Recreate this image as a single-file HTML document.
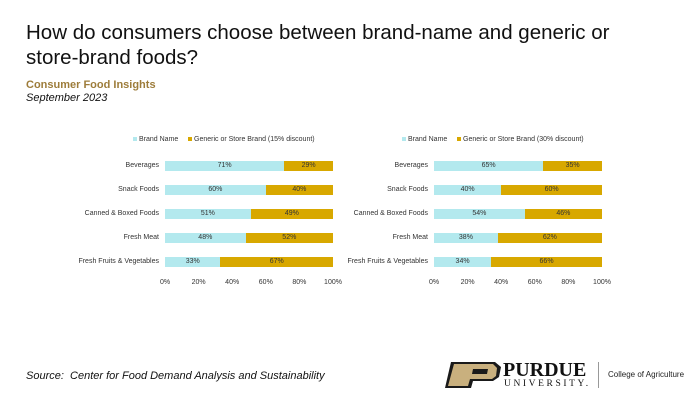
<!DOCTYPE html><html><head><style>
body{margin:0;width:700px;height:420px;background:#fff;font-family:"Liberation Sans",sans-serif;position:relative;overflow:hidden}
.a{position:absolute;white-space:nowrap}
.t{font-size:7px;color:#333}
.bar{position:absolute;height:10px;font-size:7px;color:#333;text-align:center;line-height:10px}
.b{background:#b3e9ee}.g{background:#d8a800}
</style></head><body>
<div class="a" style="left:26px;top:20px;font-size:20.5px;line-height:25px;color:#111;white-space:normal;width:640px">How do consumers choose between brand-name and generic or store-brand foods?</div>
<div class="a" style="left:26px;top:79px;font-size:11px;font-weight:bold;color:#9d7c3a">Consumer Food Insights</div>
<div class="a" style="left:26px;top:92px;font-size:11px;font-style:italic;color:#111">September 2023</div>
<div id="c"></div>
<div class="a" style="left:26px;top:370px;font-size:11px;font-style:italic;color:#111">Source:&nbsp; Center for Food Demand Analysis and Sustainability</div>
<svg class="a" style="left:443px;top:361px" width="60" height="28"><polygon points="8,1 52,1 58,6 56,16 50,20 30,20 28,27 2,27 8,1" fill="#1a1a1a"/><polygon points="11,3 50,3 54,7 53,15 49,18 27,18 25,25 5,25" fill="#c9b07e"/><polygon points="30,8 45,8 44,13 29,13" fill="#1a1a1a"/></svg>
<div class="a" style="left:503px;top:359px;font-family:'Liberation Serif',serif;font-size:20px;font-weight:bold;color:#111">PURDUE</div>
<div class="a" style="left:504px;top:379px;font-family:'Liberation Serif',serif;font-size:9.5px;letter-spacing:2.6px;color:#111">UNIVERSITY.</div>
<div class="a" style="left:598px;top:362px;width:1px;height:26px;background:#999"></div>
<div class="a" style="left:608px;top:370px;font-size:8px;color:#222">College of Agriculture</div>
<script>
var cats=["Beverages","Snack Foods","Canned & Boxed Foods","Fresh Meat","Fresh Fruits & Vegetables"];
var d=[[[71,29],[60,40],[51,49],[48,52],[33,67]],[[65,35],[40,60],[54,46],[38,62],[34,66]]];
var x0s=[165,434],legs=["Generic or Store Brand (15% discount)","Generic or Store Brand (30% discount)"];
var h="";
for(var c=0;c<2;c++){var x0=x0s[c],w=168;
for(var i=0;i<=5;i++){var lx=x0+w*i/5;h+='<div class="a t" style="left:'+(lx-15)+'px;width:30px;text-align:center;top:279px">'+(i*20)+'%</div>';}
h+='<div class="a t" style="left:'+(x0-32)+'px;top:136px"><span style="display:inline-block;width:4px;height:4px;background:#b3e9ee;margin-right:2px"></span>Brand Name</div>';
h+='<div class="a t" style="left:'+(x0+23)+'px;top:136px"><span style="display:inline-block;width:4px;height:4px;background:#d8a800;margin-right:2px"></span>'+legs[c]+'</div>';
for(var r=0;r<5;r++){var y=161+r*24,v=d[c][r];
h+='<div class="a t" style="left:'+(x0-110)+'px;width:104px;text-align:right;top:'+(y+1)+'px">'+cats[r]+'</div>';
var bw=w*v[0]/100;
h+='<div class="bar b" style="left:'+x0+'px;top:'+y+'px;width:'+bw+'px">'+v[0]+'%</div>';
h+='<div class="bar g" style="left:'+(x0+bw)+'px;top:'+y+'px;width:'+(w-bw)+'px">'+v[1]+'%</div>';}}
document.getElementById("c").innerHTML=h;
</script></body></html>
